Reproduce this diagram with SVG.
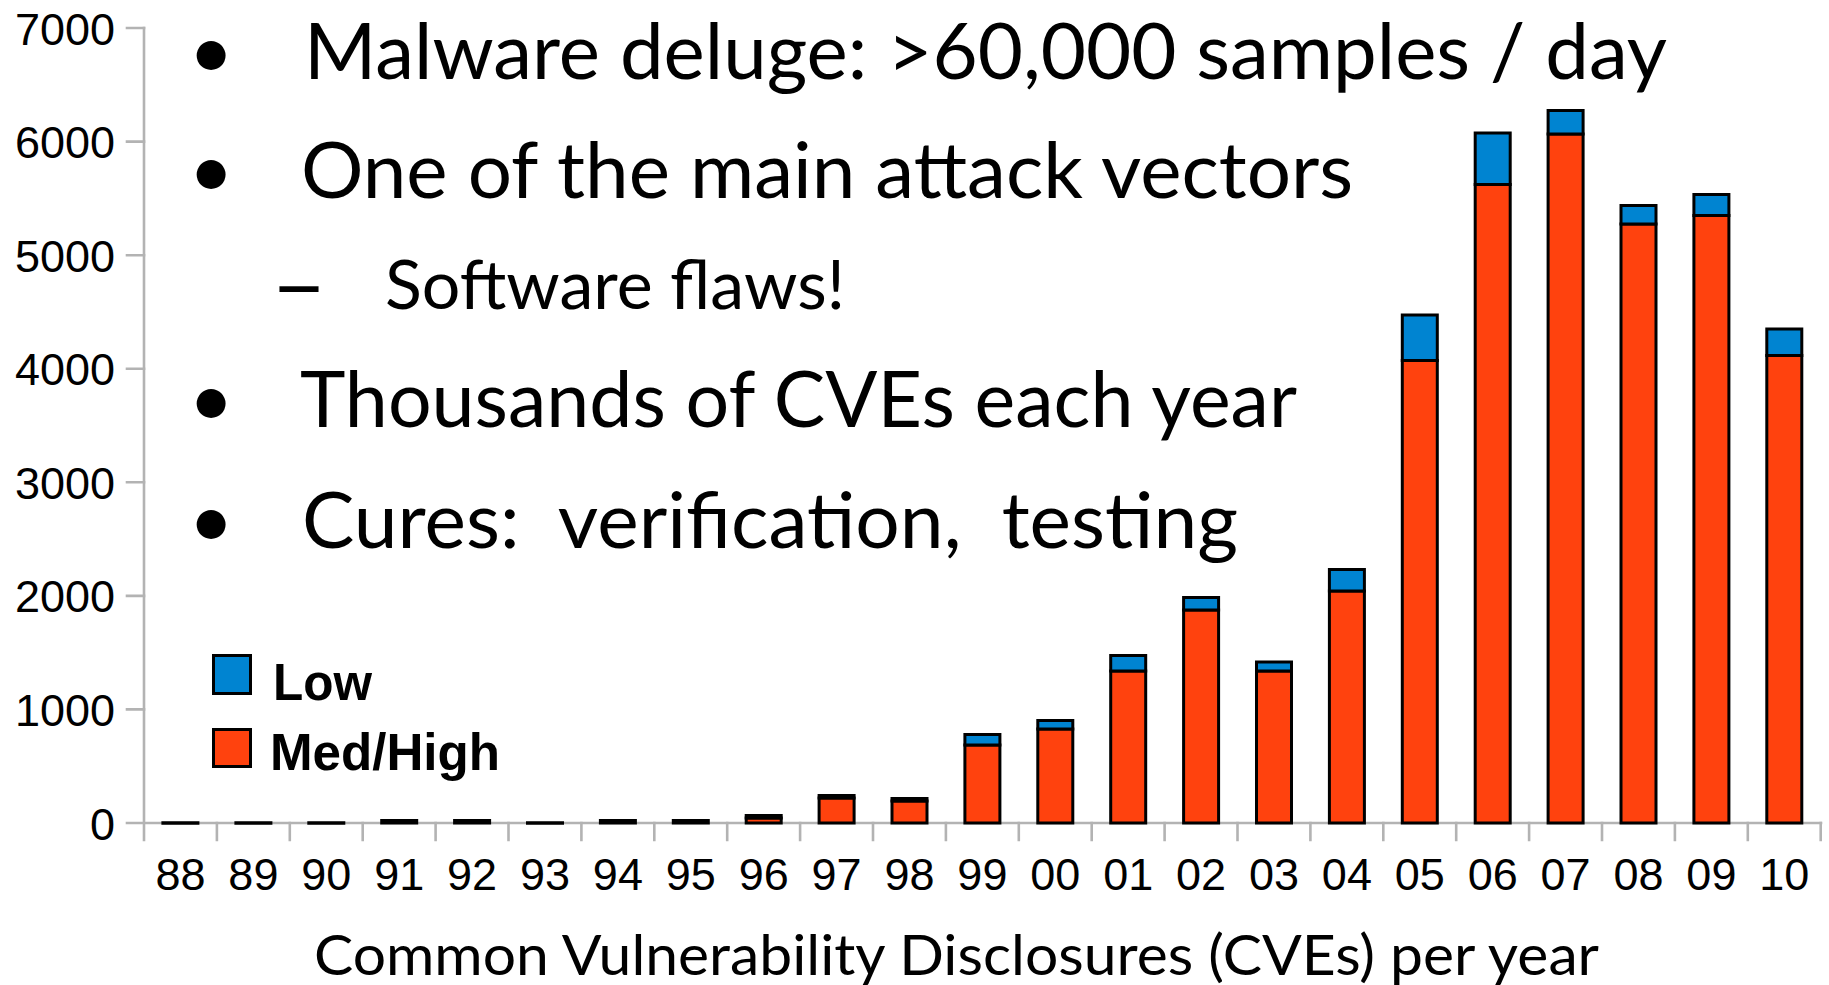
<svg xmlns="http://www.w3.org/2000/svg" width="1829" height="985" viewBox="0 0 1829 985">
  <style>
    .axis { stroke: #b3b3b3; stroke-width: 2.6; fill: none; stroke-linecap: square; }
    .tick { font-family: "Liberation Sans", Arial, sans-serif; font-size: 45px; fill: #000; }
    .ylab { text-anchor: end; }
    .xlab { text-anchor: middle; }
    .low { fill: #0084d1; stroke: #000; stroke-width: 3; }
    .high { fill: #ff420e; stroke: #000; stroke-width: 3; }
    .nil { fill: #000; stroke: #000; stroke-width: 3; }
    .legend { font-family: "Liberation Sans", Arial, sans-serif; font-weight: bold; font-size: 52px; fill: #000; }
    .bullet { font-family: Lato, "Open Sans", sans-serif; font-size: 78px; fill: #000; }
    .sub { font-family: Lato, "Open Sans", sans-serif; font-size: 67px; fill: #000; }
    .title { font-family: Lato, "Open Sans", sans-serif; font-size: 56px; fill: #000; }
  </style>
  <rect width="1829" height="985" fill="#fff"/>

  <!-- axes and tick marks -->
  <g id="axes">
    <path class="axis" d="M144 28 V840 M127 823 H1821"/>
    <path class="axis" d="M127 28 H144 M127 141.6 H144 M127 255.2 H144 M127 368.7 H144 M127 482.3 H144 M127 595.9 H144 M127 709.4 H144"/>
    <path class="axis" d="M216.9 823 V840 M289.8 823 V840 M362.7 823 V840 M435.6 823 V840 M508.5 823 V840 M581.4 823 V840 M654.3 823 V840 M727.2 823 V840 M800.1 823 V840 M873 823 V840 M945.9 823 V840 M1018.8 823 V840 M1091.7 823 V840 M1164.6 823 V840 M1237.5 823 V840 M1310.4 823 V840 M1383.3 823 V840 M1456.2 823 V840 M1529.1 823 V840 M1602 823 V840 M1674.9 823 V840 M1747.8 823 V840 M1820.7 823 V840"/>
  </g>

  <g id="y-labels" class="tick ylab">
    <text x="115" y="44.5">7000</text>
    <text x="115" y="158">6000</text>
    <text x="115" y="271.5">5000</text>
    <text x="115" y="385">4000</text>
    <text x="115" y="498.5">3000</text>
    <text x="115" y="612">2000</text>
    <text x="115" y="725.5">1000</text>
    <text x="115" y="839.5">0</text>
  </g>

  <g id="x-labels" class="tick xlab">
    <text x="180.5" y="890">88</text>
    <text x="253.4" y="890">89</text>
    <text x="326.3" y="890">90</text>
    <text x="399.2" y="890">91</text>
    <text x="472.1" y="890">92</text>
    <text x="545" y="890">93</text>
    <text x="617.9" y="890">94</text>
    <text x="690.8" y="890">95</text>
    <text x="763.7" y="890">96</text>
    <text x="836.6" y="890">97</text>
    <text x="909.5" y="890">98</text>
    <text x="982.4" y="890">99</text>
    <text x="1055.3" y="890">00</text>
    <text x="1128.2" y="890">01</text>
    <text x="1201.1" y="890">02</text>
    <text x="1274" y="890">03</text>
    <text x="1346.9" y="890">04</text>
    <text x="1419.8" y="890">05</text>
    <text x="1492.7" y="890">06</text>
    <text x="1565.6" y="890">07</text>
    <text x="1638.5" y="890">08</text>
    <text x="1711.4" y="890">09</text>
    <text x="1784.3" y="890">10</text>
  </g>

  <!-- stacked bars: Low on top of Med/High -->
  <g id="bars">
    <g id="bar-88"><rect class="nil" x="162.9" y="822.75" width="35" height="0.5"/></g>
    <g id="bar-89"><rect class="nil" x="235.9" y="822.75" width="35" height="0.5"/></g>
    <g id="bar-90"><rect class="nil" x="308.8" y="822.75" width="35" height="0.5"/></g>
    <g id="bar-91"><rect class="nil" x="381.7" y="820.5" width="35" height="2.5"/></g>
    <g id="bar-92"><rect class="nil" x="454.6" y="820.5" width="35" height="2.5"/></g>
    <g id="bar-93"><rect class="nil" x="527.5" y="822.75" width="35" height="0.5"/></g>
    <g id="bar-94"><rect class="nil" x="600.4" y="820.5" width="35" height="2.5"/></g>
    <g id="bar-95"><rect class="nil" x="673.3" y="820.5" width="35" height="2.5"/></g>
    <g id="bar-96"><rect class="high" x="746.2" y="818" width="35" height="5"/><rect class="low" x="746.2" y="815.5" width="35" height="2.5"/></g>
    <g id="bar-97"><rect class="high" x="819.1" y="798" width="35" height="25"/><rect class="low" x="819.1" y="795.5" width="35" height="2.5"/></g>
    <g id="bar-98"><rect class="high" x="892" y="801" width="35" height="22"/><rect class="low" x="892" y="798.5" width="35" height="2.5"/></g>
    <g id="bar-99"><rect class="high" x="964.9" y="745" width="35" height="78"/><rect class="low" x="964.9" y="734.5" width="35" height="10.5"/></g>
    <g id="bar-00"><rect class="high" x="1037.8" y="729" width="35" height="94"/><rect class="low" x="1037.8" y="720.5" width="35" height="8.5"/></g>
    <g id="bar-01"><rect class="high" x="1110.7" y="671" width="35" height="152"/><rect class="low" x="1110.7" y="655.5" width="35" height="15.5"/></g>
    <g id="bar-02"><rect class="high" x="1183.6" y="610" width="35" height="213"/><rect class="low" x="1183.6" y="597.5" width="35" height="12.5"/></g>
    <g id="bar-03"><rect class="high" x="1256.5" y="671" width="35" height="152"/><rect class="low" x="1256.5" y="662" width="35" height="9"/></g>
    <g id="bar-04"><rect class="high" x="1329.4" y="591" width="35" height="232"/><rect class="low" x="1329.4" y="569.5" width="35" height="21.5"/></g>
    <g id="bar-05"><rect class="high" x="1402.3" y="360.5" width="35" height="462.5"/><rect class="low" x="1402.3" y="315" width="35" height="45.5"/></g>
    <g id="bar-06"><rect class="high" x="1475.2" y="184.5" width="35" height="638.5"/><rect class="low" x="1475.2" y="133" width="35" height="51.5"/></g>
    <g id="bar-07"><rect class="high" x="1548.1" y="134" width="35" height="689"/><rect class="low" x="1548.1" y="110.5" width="35" height="23.5"/></g>
    <g id="bar-08"><rect class="high" x="1621" y="224" width="35" height="599"/><rect class="low" x="1621" y="205.5" width="35" height="18.5"/></g>
    <g id="bar-09"><rect class="high" x="1693.9" y="215.5" width="35" height="607.5"/><rect class="low" x="1693.9" y="194.5" width="35" height="21"/></g>
    <g id="bar-10"><rect class="high" x="1766.8" y="355.5" width="35" height="467.5"/><rect class="low" x="1766.8" y="329" width="35" height="26.5"/></g>
  </g>

  <g id="legend">
    <rect class="low" x="213.5" y="655.5" width="37" height="38"/>
    <text class="legend" x="273" y="700" textLength="99" lengthAdjust="spacingAndGlyphs">Low</text>
    <rect class="high" x="213.5" y="729.5" width="37" height="37"/>
    <text class="legend" x="270" y="770" textLength="230" lengthAdjust="spacingAndGlyphs">Med/High</text>
  </g>

  <!-- bullet list over the plot -->
  <g id="points">
    <text class="bullet" x="211" y="79" text-anchor="middle">•</text>
    <text class="bullet" x="304" y="79" textLength="1363" lengthAdjust="spacingAndGlyphs">Malware deluge: &gt;60,000 samples / day</text>
    <text class="bullet" x="211" y="198" text-anchor="middle">•</text>
    <text class="bullet" x="301" y="198" textLength="1052" lengthAdjust="spacingAndGlyphs">One of the main attack vectors</text>
    <text class="sub" x="271" y="309" textLength="56" lengthAdjust="spacingAndGlyphs" font-weight="bold">–</text>
    <text class="sub" x="385" y="309" textLength="460" lengthAdjust="spacingAndGlyphs">Software flaws!</text>
    <text class="bullet" x="211" y="427" text-anchor="middle">•</text>
    <text class="bullet" x="300" y="427" textLength="997" lengthAdjust="spacingAndGlyphs">Thousands of CVEs each year</text>
    <text class="bullet" x="211" y="548" text-anchor="middle">•</text>
    <text class="bullet" x="302" y="548" textLength="936" lengthAdjust="spacingAndGlyphs" xml:space="preserve">Cures:  verification,  testing</text>
  </g>

  <text id="x-title" class="title" x="314" y="975" textLength="1285" lengthAdjust="spacingAndGlyphs">Common Vulnerability Disclosures (CVEs) per year</text>
</svg>
